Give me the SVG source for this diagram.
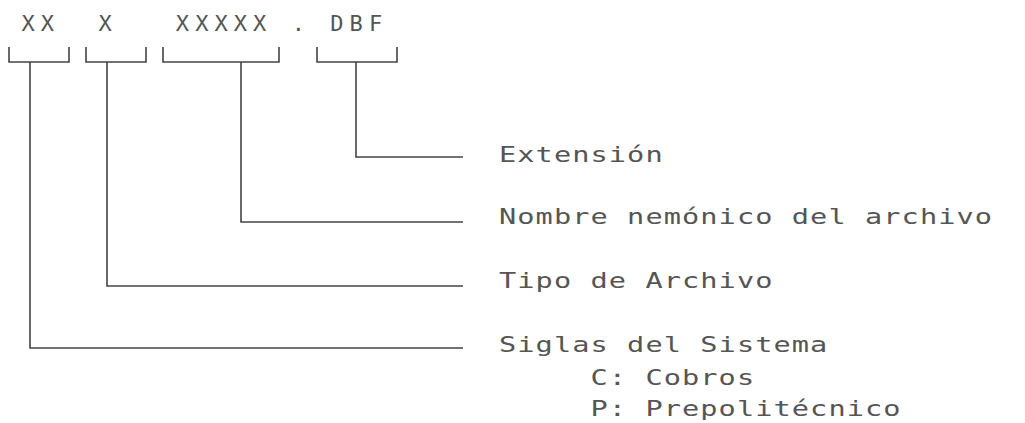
<svg xmlns="http://www.w3.org/2000/svg" width="1025" height="423" viewBox="0 0 1025 423">
<style>
.t{font-family:"DejaVu Sans Mono","Liberation Mono",monospace;font-size:22px;fill:#555;}
.top{letter-spacing:6.06px;}
.lbl{letter-spacing:0.84px;}
.c{fill:none;stroke:#444;stroke-width:1.6;}
</style>
<rect width="1025" height="423" fill="#fff"/>
<g id="code">
<text class="t top" x="21.4" y="31" xml:space="preserve">XX  X   XXXXX . DBF</text>
</g>
<g id="connectors">
<path class="c" d="M9,47 V62 H69 V47 M30,62 V348 H463"/>
<path class="c" d="M86,47 V62 H146 V47 M107,62 V286 H463"/>
<path class="c" d="M163,47 V62 H279 V47 M241,62 V222 H463"/>
<path class="c" d="M317,47 V62 H397 V47 M356,62 V157 H463"/>
</g>
<g id="ext"><text class="t lbl" transform="translate(499,162) scale(1.3,1)">Extensión</text></g>
<g id="nombre"><text class="t lbl" transform="translate(499,224) scale(1.3,1)">Nombre nemónico del archivo</text></g>
<g id="tipo"><text class="t lbl" transform="translate(499,288) scale(1.3,1)">Tipo de Archivo</text></g>
<g id="siglas">
<text class="t lbl" transform="translate(499,352) scale(1.3,1)">Siglas del Sistema</text>
<text class="t lbl" transform="translate(590.5,385) scale(1.3,1)">C: Cobros</text>
<text class="t lbl" transform="translate(590.5,416) scale(1.3,1)">P: Prepolitécnico</text>
</g>
</svg>
